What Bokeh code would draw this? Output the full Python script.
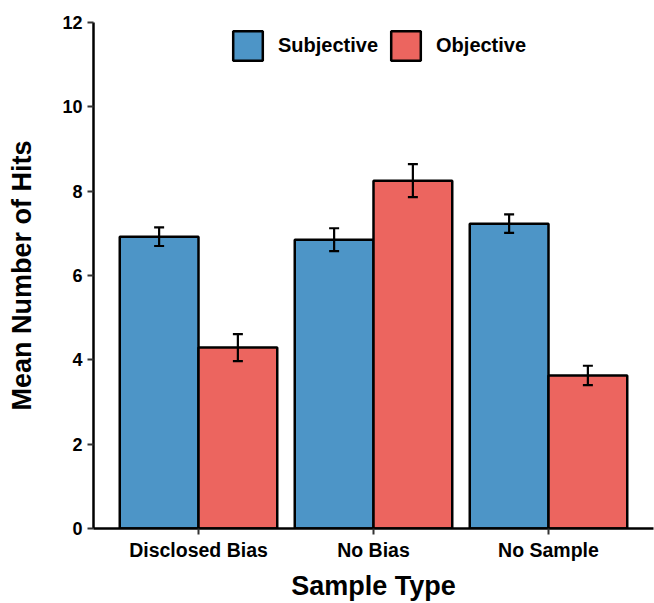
from bokeh.plotting import figure
from bokeh.models import ColumnDataSource, FactorRange, Range1d, FixedTicker, Legend, LegendItem
from bokeh.transform import dodge
from bokeh.embed import file_html
from bokeh.resources import INLINE

categories = ["Disclosed Bias", "No Bias", "No Sample"]
subjective = [6.92, 6.85, 7.23]
subjective_err = [0.22, 0.27, 0.22]
objective = [4.29, 8.25, 3.63]
objective_err = [0.32, 0.39, 0.23]
y_ticks = [0, 2, 4, 6, 8, 10, 12]

BLUE = "#4D95C7"
RED = "#EC655F"
FONT = "Liberation Sans"

src = ColumnDataSource(dict(
    cat=categories,
    subj=subjective,
    subj_lo=[v - e for v, e in zip(subjective, subjective_err)],
    subj_hi=[v + e for v, e in zip(subjective, subjective_err)],
    obj=objective,
    obj_lo=[v - e for v, e in zip(objective, objective_err)],
    obj_hi=[v + e for v, e in zip(objective, objective_err)],
))

p = figure(width=654, height=603, output_backend="svg", toolbar_location=None,
           x_range=FactorRange(*categories, range_padding=0.1, range_padding_units="absolute"),
           y_range=Range1d(0, 12),
           min_border_left=93, min_border_right=1, min_border_top=22, min_border_bottom=75)

w = 0.45
r_s = p.vbar(x=dodge("cat", -w / 2, range=p.x_range), top="subj", width=w, source=src,
             fill_color=BLUE, line_color="black", line_width=2.5)
r_o = p.vbar(x=dodge("cat", w / 2, range=p.x_range), top="obj", width=w, source=src,
             fill_color=RED, line_color="black", line_width=2.5)

for off, lo, hi in [(-w / 2, "subj_lo", "subj_hi"), (w / 2, "obj_lo", "obj_hi")]:
    xd = dodge("cat", off, range=p.x_range)
    p.segment(x0=xd, y0=lo, x1=xd, y1=hi, source=src, line_color="black", line_width=2.2)
    p.scatter(x=xd, y=lo, source=src, marker="dash", size=10, line_color="black", line_width=2.2)
    p.scatter(x=xd, y=hi, source=src, marker="dash", size=10, line_color="black", line_width=2.2)

p.xgrid.visible = False
p.ygrid.visible = False
p.outline_line_color = None
p.background_fill_color = "white"
p.border_fill_color = "white"

for ax in (p.xaxis[0], p.yaxis[0]):
    ax.axis_line_width = 2.5
    ax.axis_line_color = "black"
    ax.major_tick_line_width = 2
    ax.major_tick_line_color = "#333333"
    ax.major_tick_out = 6
    ax.major_tick_in = 0
    ax.minor_tick_line_color = None
    ax.major_label_text_font = FONT
    ax.major_label_text_font_style = "bold"
    ax.major_label_text_color = "black"
    ax.axis_label_text_font = FONT
    ax.axis_label_text_font_style = "bold"
    ax.axis_label_text_color = "black"

p.yaxis.ticker = FixedTicker(ticks=y_ticks)
p.yaxis.major_label_text_font_size = "18px"
p.yaxis.major_label_standoff = 5
p.yaxis.axis_label = "Mean Number of Hits"
p.yaxis.axis_label_text_font_size = "27px"
p.yaxis.axis_label_standoff = 22

p.xaxis.major_label_text_font_size = "19.5px"
p.xaxis.major_label_standoff = 4
p.xaxis.axis_label = "Sample Type"
p.xaxis.axis_label_text_font_size = "27px"
p.xaxis.axis_label_standoff = 7

legend = Legend(items=[LegendItem(label="Subjective", renderers=[r_s]),
                       LegendItem(label="Objective", renderers=[r_o])],
                orientation="horizontal", location=(136, 464),
                glyph_width=37, glyph_height=37, label_standoff=12, spacing=9,
                padding=0, margin=0, border_line_color=None, background_fill_alpha=0,
                label_text_font=FONT, label_text_font_style="bold",
                label_text_font_size="20px", label_text_color="black")
p.add_layout(legend)

open("out.html", "w").write(file_html(p, INLINE))
